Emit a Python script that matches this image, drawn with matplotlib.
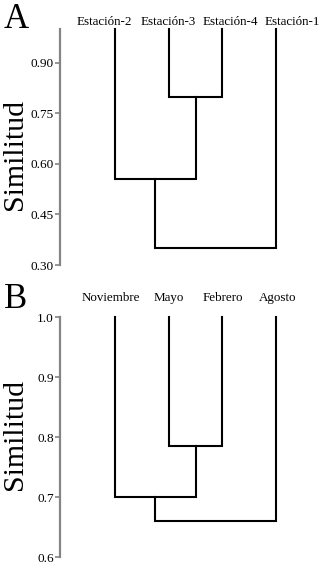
import matplotlib
matplotlib.use("Agg")
import matplotlib.pyplot as plt

plt.rcParams['font.family'] = ['Liberation Serif', 'DejaVu Serif']

# Panel A: stations
leaves_a = ['Estación-2', 'Estación-3', 'Estación-4', 'Estación-1']
# merges: (cluster i, cluster j, similarity), new clusters numbered after the leaves
merges_a = [(1, 2, 0.80), (0, 4, 0.555), (5, 3, 0.35)]
label_pos_a = [-0.2, 1.0, 2.14, 3.31]
ticks_a = [0.30, 0.45, 0.60, 0.75, 0.90]

# Panel B: months
leaves_b = ['Noviembre', 'Mayo', 'Febrero', 'Agosto']
merges_b = [(1, 2, 0.785), (0, 4, 0.70), (5, 3, 0.66)]
label_pos_b = [-0.07, 1.0, 2.0, 3.02]
ticks_b = [0.6, 0.7, 0.8, 0.9, 1.0]

W, H = 330, 574


def draw_dendrogram(ax, leaves, merges, top=1.0):
    '''
    Draws a dendrogram from a list of merges, leaves at x = 0..n-1.
    '''
    xs = list(range(len(leaves)))
    ys = [top] * len(leaves)
    for i, j, h in merges:
        ax.plot([xs[i], xs[i], xs[j], xs[j]], [ys[i], h, h, ys[j]],
                color='black', lw=1.5, solid_joinstyle='miter', clip_on=False)
        xs.append((xs[i] + xs[j]) / 2.0)
        ys.append(h)


def make_panel(fig, px_top, px_bottom, ymin, ymax, leaves, merges, ticks, fmt,
               label_pos, label_y, letter, letter_y, ylab_y):
    left = 60 / W
    right = 322 / W
    ax = fig.add_axes([left, 1 - px_bottom / H, right - left, (px_bottom - px_top) / H])
    draw_dendrogram(ax, leaves, merges, top=ymax)
    spacing = 53.7
    ax.set_xlim(-(115 - 60) / spacing, (322 - 115) / spacing)
    ax.set_ylim(ymin, ymax)
    for s in ['top', 'right', 'bottom']:
        ax.spines[s].set_visible(False)
    ax.spines['left'].set_color('#858585')
    ax.spines['left'].set_linewidth(1.6)
    ax.set_xticks([])
    ax.set_yticks(ticks)
    ax.set_yticklabels([fmt.format(t) for t in ticks], fontsize=9.5)
    ax.tick_params(axis='y', length=3.5, width=1.2, color='#858585', pad=1)
    for name, x in zip(leaves, label_pos):
        ax.text(x, label_y, name, ha='center', va='bottom', fontsize=9.4,
                clip_on=False)
    fig.text(4 / W, 1 - letter_y / H, letter, fontsize=25, ha='left', va='center')
    fig.text(15 / W, 1 - ylab_y / H, 'Similitud', fontsize=21.5, rotation=90,
             ha='center', va='center')
    return ax


fig = plt.figure(figsize=(W / 100, H / 100), dpi=100)

make_panel(fig, 29.3, 265, 0.30, 1.0, leaves_a, merges_a, ticks_a, '{:.2f}',
           label_pos_a, 1.005, 'A', 20, 155)
make_panel(fig, 317, 557, 0.6, 1.0, leaves_b, merges_b, ticks_b, '{:.1f}',
           label_pos_b, 1.022, 'B', 300, 435)

fig.savefig('out.png', dpi=100)
